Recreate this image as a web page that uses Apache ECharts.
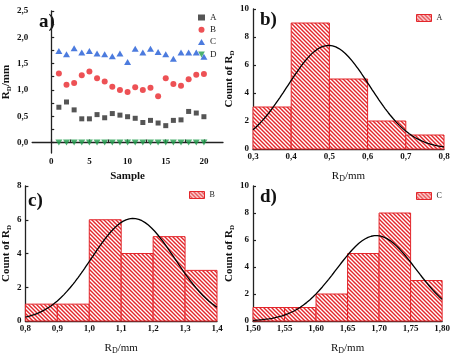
<!DOCTYPE html>
<html>
<head>
<meta charset="utf-8">
<script src="https://cdn.jsdelivr.net/npm/echarts@6.0.0/dist/echarts.min.js"></script>
<style>
html, body { margin: 0; padding: 0; background: #fff; }
#main { width: 453px; height: 356px; }
</style>
</head>
<body>
<div id="main"></div>
<script>
// 样品编号及各组 RD 数据 (mm)
var sampleNo = [1, 2, 3, 4, 5, 6, 7, 8, 9, 10, 11, 12, 13, 14, 15, 16, 17, 18, 19, 20];
var rdA = [0.67, 0.77, 0.62, 0.45, 0.45, 0.53, 0.47, 0.55, 0.52, 0.49, 0.46, 0.38, 0.42, 0.37, 0.32, 0.42, 0.43, 0.59, 0.56, 0.49];
var rdB = [1.31, 1.10, 1.13, 1.28, 1.35, 1.22, 1.16, 1.06, 1.00, 0.96, 1.05, 1.00, 1.04, 0.88, 1.22, 1.11, 1.08, 1.20, 1.29, 1.30];
var rdC = [1.74, 1.68, 1.79, 1.71, 1.74, 1.69, 1.68, 1.64, 1.69, 1.53, 1.78, 1.71, 1.78, 1.72, 1.68, 1.59, 1.71, 1.71, 1.71, 1.63];
var rdD = [0, 0, 0, 0, 0, 0, 0, 0, 0, 0, 0, 0, 0, 0, 0, 0, 0, 0, 0, 0];

// 直方图分箱
var edgesA = [0.3, 0.4, 0.5, 0.6, 0.7, 0.8];
var countsA = [3, 9, 5, 2, 1];
var edgesB = [0.8, 0.9, 1.0, 1.1, 1.2, 1.3, 1.4];
var countsB = [1, 1, 6, 4, 5, 3];
var edgesC = [1.50, 1.55, 1.60, 1.65, 1.70, 1.75, 1.80];
var countsC = [1, 1, 2, 5, 8, 3];

// 刻度
var xLabelsScatter = [0, 5, 10, 15, 20];
var xTicksScatter = [0, 2.5, 5, 7.5, 10, 12.5, 15, 17.5, 20];
var yLabelsScatter = [0, 0.5, 1, 1.5, 2, 2.5];
var yTicksScatter = [0, 0.25, 0.5, 0.75, 1, 1.25, 1.5, 1.75, 2, 2.25, 2.5];

var SERIF = '"Liberation Serif", "DejaVu Serif", serif';
var RED = '#e3262b';

// 斜线填充
var hatch = document.createElement('canvas');
hatch.width = 4;
hatch.height = 4;
var hc = hatch.getContext('2d');
hc.fillStyle = '#fff';
hc.fillRect(0, 0, 4, 4);
hc.strokeStyle = RED;
hc.lineWidth = 1.4;
hc.beginPath();
hc.moveTo(-1, -1); hc.lineTo(5, 5);
hc.moveTo(-1, 3); hc.lineTo(1, 5);
hc.moveTo(3, -1); hc.lineTo(5, 1);
hc.stroke();
var hatchFill = {image: hatch, repeat: 'repeat'};

function pairs(xs, ys) {
    var out = [];
    for (var i = 0; i < xs.length; i++) out.push([xs[i], ys[i]]);
    return out;
}

function binRows(edges, counts) {
    var out = [];
    for (var i = 0; i < counts.length; i++) out.push([edges[i], edges[i + 1], counts[i]]);
    return out;
}

// 正态拟合曲线 (均值/标准差由样本计算)
function normalFit(vals, edges) {
    var n = vals.length, sum = 0, ss = 0;
    vals.forEach(function(v) { sum += v; });
    var mean = sum / n;
    vals.forEach(function(v) { ss += (v - mean) * (v - mean); });
    var sd = Math.sqrt(ss / (n - 1));
    var bw = edges[1] - edges[0];
    var lo = edges[0], hi = edges[edges.length - 1];
    var pts = [];
    for (var k = 0; k <= 120; k++) {
        var x = lo + (hi - lo) * k / 120;
        var y = n * bw / (sd * Math.sqrt(2 * Math.PI)) * Math.exp(-(x - mean) * (x - mean) / (2 * sd * sd));
        pts.push([x, y]);
    }
    return pts;
}

function renderBin(params, api) {
    var p0 = api.coord([api.value(0), api.value(2)]);
    var p1 = api.coord([api.value(1), 0]);
    return {
        type: 'rect',
        shape: {x: p0[0], y: p0[1], width: p1[0] - p0[0], height: p1[1] - p0[1]},
        style: {fill: hatchFill, stroke: RED, lineWidth: 1}
    };
}

function comma(d) {
    return function(v) { return v.toFixed(d).replace('.', ','); };
}

var axisLine = {lineStyle: {color: '#222', width: 1.3}};
var tick = {inside: true, length: 3, lineStyle: {color: '#222', width: 1.2}};
var tickLabel = {color: '#111', fontFamily: SERIF, fontWeight: 'bold', fontSize: 9, margin: 4};
var subRich = {
    b: {fontFamily: SERIF, fontWeight: 'bold', fontSize: 11, color: '#111'},
    s: {fontFamily: SERIF, fontWeight: 'bold', fontSize: 7, color: '#111', padding: [6, 0, 0, 0]},
    r: {fontFamily: SERIF, fontSize: 11, color: '#111'},
    rs: {fontFamily: SERIF, fontSize: 8, color: '#111', padding: [5, 0, 0, 0]}
};

function xHist(grid, min, max, interval, dec) {
    return {
        gridIndex: grid, type: 'value', min: min, max: max, interval: interval,
        axisLine: axisLine, axisTick: {show: false}, splitLine: {show: false},
        axisLabel: Object.assign({}, tickLabel, {formatter: comma(dec), margin: 3}),
        name: '{r|R}{rs|D}{r|/mm}', nameLocation: 'middle', nameGap: 21,
        nameTextStyle: {rich: subRich}
    };
}

function yHist(grid, max, gap) {
    return {
        gridIndex: grid, type: 'value', min: 0, max: max, interval: 2,
        axisLine: axisLine, axisTick: tick, splitLine: {show: false},
        axisLabel: tickLabel,
        name: '{b|Count of R}{s|D}', nameLocation: 'middle', nameGap: gap,
        nameTextStyle: {rich: subRich}
    };
}

function histLegend(name, left, top) {
    return {
        data: [{name: name, icon: 'rect', itemStyle: {color: hatchFill, borderColor: RED, borderWidth: 1}}],
        left: left, top: top, padding: 0, itemWidth: 15, itemHeight: 7,
        formatter: function(n) { return n.slice(1); },
        textStyle: {fontFamily: SERIF, fontSize: 8, color: '#222'}
    };
}

function fitLine(name, idx, vals, edges) {
    return {
        name: name, type: 'line', xAxisIndex: idx, yAxisIndex: idx, z: 4,
        data: normalFit(vals, edges), showSymbol: false, smooth: false,
        lineStyle: {color: '#000', width: 1.3}, silent: true
    };
}

function binSeries(name, idx, edges, counts) {
    return {
        name: name, type: 'custom', xAxisIndex: idx, yAxisIndex: idx, z: 2,
        renderItem: renderBin, encode: {x: [0, 1], y: 2},
        itemStyle: {color: hatchFill, borderColor: RED, borderWidth: 1},
        data: binRows(edges, counts)
    };
}

var myChart = echarts.init(document.getElementById('main'), null, {renderer: 'canvas'});

myChart.setOption({
    animation: false,
    backgroundColor: '#fff',
    grid: [
        {left: 31, top: 11, width: 192, height: 142},
        {left: 253, top: 9, width: 191, height: 140},
        {left: 21, top: 186, width: 196, height: 142},
        {left: 253, top: 186, width: 190, height: 142}
    ],
    xAxis: [
        {
            gridIndex: 0, type: 'value', min: -2.5, max: 22.5,
            axisLine: axisLine, splitLine: {show: false},
            axisTick: Object.assign({customValues: xTicksScatter}, tick),
            axisLabel: Object.assign({customValues: xLabelsScatter}, tickLabel),
            name: 'Sample', nameLocation: 'middle', nameGap: 18,
            nameTextStyle: {fontFamily: SERIF, fontWeight: 'bold', fontSize: 11, color: '#111'}
        },
        xHist(1, 0.3, 0.8, 0.1, 1),
        xHist(2, 0.8, 1.4, 0.1, 1),
        xHist(3, 1.5, 1.8, 0.05, 2)
    ],
    yAxis: [
        {
            gridIndex: 0, type: 'value', min: -0.2, max: 2.5,
            axisLine: axisLine, splitLine: {show: false},
            axisTick: Object.assign({customValues: yTicksScatter}, tick),
            axisLabel: Object.assign({customValues: yLabelsScatter, formatter: comma(1)}, tickLabel),
            name: '{b|R}{s|D}{b|/mm}', nameLocation: 'middle', nameGap: 19,
            nameTextStyle: {rich: subRich}
        },
        yHist(1, 10, 16),
        yHist(2, 8, 11),
        yHist(3, 10, 16)
    ],
    legend: [
        {
            data: ['A', 'B', 'C', 'D'], orient: 'vertical', left: 198, top: 13,
            padding: 0, itemWidth: 7, itemHeight: 6, itemGap: 3.3,
            textStyle: {fontFamily: SERIF, fontSize: 9, color: '#222'}
        },
        histLegend('hA', 416, 14),
        histLegend('hB', 189, 191),
        histLegend('hC', 416, 192)
    ],
    graphic: [
        {type: 'text', left: 39, top: 13, style: {text: 'a)', font: 'bold 19px ' + SERIF, fill: '#111'}},
        {type: 'text', left: 260, top: 11, style: {text: 'b)', font: 'bold 19px ' + SERIF, fill: '#111'}},
        {type: 'text', left: 28, top: 192, style: {text: 'c)', font: 'bold 19px ' + SERIF, fill: '#111'}},
        {type: 'text', left: 260, top: 188, style: {text: 'd)', font: 'bold 19px ' + SERIF, fill: '#111'}}
    ],
    series: [
        {name: 'A', type: 'scatter', xAxisIndex: 0, yAxisIndex: 0, symbol: 'rect', symbolSize: 5,
            itemStyle: {color: '#2b2b2b'}, data: pairs(sampleNo, rdA)},
        {name: 'B', type: 'scatter', xAxisIndex: 0, yAxisIndex: 0, symbol: 'circle', symbolSize: 6,
            itemStyle: {color: '#e8262a'}, data: pairs(sampleNo, rdB)},
        {name: 'C', type: 'scatter', xAxisIndex: 0, yAxisIndex: 0, symbol: 'triangle', symbolSize: [7, 6],
            itemStyle: {color: '#1f5ad6'}, data: pairs(sampleNo, rdC)},
        {name: 'D', type: 'scatter', xAxisIndex: 0, yAxisIndex: 0, symbol: 'path://M0,0 L10,0 L5,9 Z', symbolSize: [7, 6],
            itemStyle: {color: '#1f9e4c'}, data: pairs(sampleNo, rdD)},

        binSeries('hA', 1, edgesA, countsA),
        fitLine('fitA', 1, rdA, edgesA),
        binSeries('hB', 2, edgesB, countsB),
        fitLine('fitB', 2, rdB, edgesB),
        binSeries('hC', 3, edgesC, countsC),
        fitLine('fitC', 3, rdC, edgesC)
    ]
});
</script>
</body>
</html>
